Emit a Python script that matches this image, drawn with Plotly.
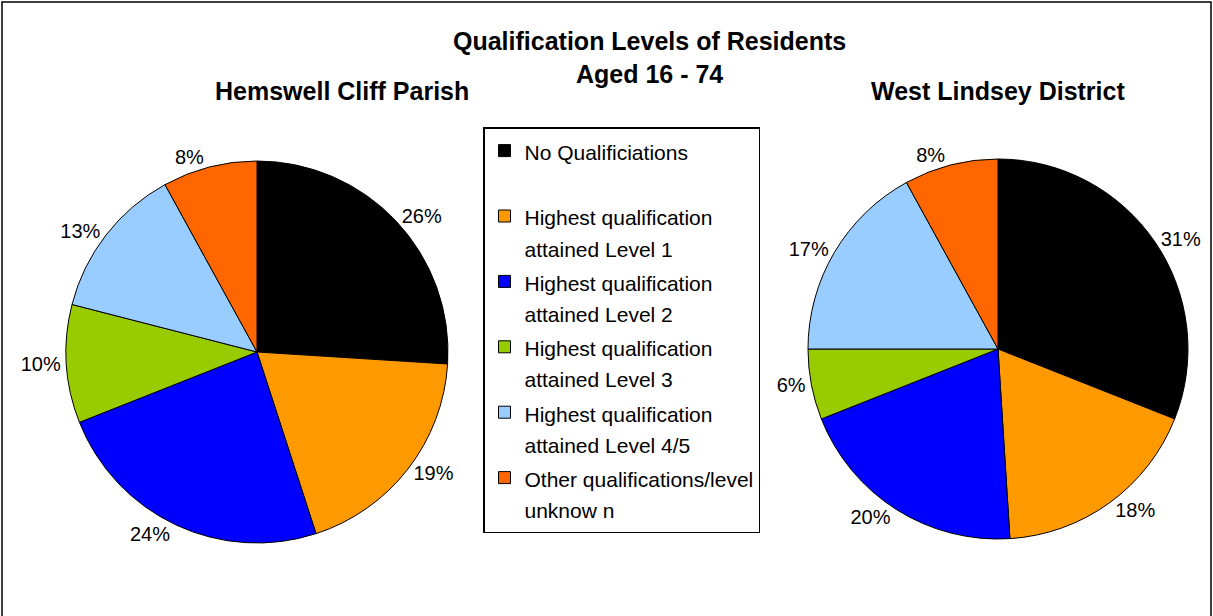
import plotly.graph_objects as go

categories = [
    "No Qualificiations<br> ",
    "Highest qualification<br>attained Level 1",
    "Highest qualification<br>attained Level 2",
    "Highest qualification<br>attained Level 3",
    "Highest qualification<br>attained Level 4/5",
    "Other qualifications/level<br>unknow n",
]
hemswell = [26, 19, 24, 10, 13, 8]
west_lindsey = [31, 18, 20, 6, 17, 8]
colours = ["#000000", "#FF9900", "#0000FF", "#99CC00", "#99CCFF", "#FF6600"]

W, H = 1213, 616
font = "Arial, Liberation Sans, sans-serif"

# legend rows are spaced by the legend font size, glyphs drawn a bit smaller
legend_labels = ["<br>".join("<span style='font-size:21px'>%s</span>" % part for part in c.split("<br>"))
                 for c in categories]


def pie_domain(cx, cy, r):
    # pixel centre/radius -> paper domain
    return dict(x=[(cx - r) / W, (cx + r) / W], y=[1 - (cy + r) / H, 1 - (cy - r) / H])


fig = go.Figure()
fig.add_trace(go.Pie(
    labels=legend_labels, values=hemswell, sort=False, direction="clockwise", rotation=0,
    marker=dict(colors=colours, line=dict(color="black", width=1)),
    textposition="outside", texttemplate="%{percent:.0%}",
    outsidetextfont=dict(size=20, color="black", family=font),
    domain=pie_domain(257, 352, 191), name="Hemswell Cliff Parish",
))
fig.add_trace(go.Pie(
    labels=legend_labels, values=west_lindsey, sort=False, direction="clockwise", rotation=0,
    marker=dict(colors=colours, line=dict(color="black", width=1)),
    textposition="outside", texttemplate="%{percent:.0%}",
    outsidetextfont=dict(size=20, color="black", family=font),
    domain=pie_domain(998, 349, 190), name="West Lindsey District",
    showlegend=False,
))

fig.add_annotation(x=649 / W, y=1 - 57 / H, xref="paper", yref="paper",
                   text="<b>Qualification Levels of Residents<br>Aged 16 - 74</b>",
                   showarrow=False, xanchor="center", yanchor="middle",
                   font=dict(size=25, color="black", family=font))
fig.add_annotation(x=342 / W, y=1 - 91 / H, xref="paper", yref="paper",
                   text="<b>Hemswell Cliff Parish</b>", showarrow=False,
                   xanchor="center", yanchor="middle",
                   font=dict(size=25, color="black", family=font))
fig.add_annotation(x=998 / W, y=1 - 91 / H, xref="paper", yref="paper",
                   text="<b>West Lindsey District</b>", showarrow=False,
                   xanchor="center", yanchor="middle",
                   font=dict(size=25, color="black", family=font))

# outer frame
fig.add_shape(type="rect", xref="paper", yref="paper",
              x0=2 / W, x1=1211 / W, y0=-0.05, y1=1 - 2 / H,
              line=dict(color="black", width=1.5))

fig.update_layout(
    width=W, height=H,
    margin=dict(l=0, r=0, t=0, b=0),
    paper_bgcolor="white", plot_bgcolor="white",
    font=dict(family=font, color="black"),
    legend=dict(x=483 / W, y=1 - 127 / H, xanchor="left", yanchor="top",
                bordercolor="black", borderwidth=1.5, bgcolor="white",
                font=dict(size=24, color="black", family=font), valign="top",
                traceorder="normal"),
)

fig.write_html("out.html", config={"displayModeBar": False},
               post_script="document.body.style.margin = '0';")
